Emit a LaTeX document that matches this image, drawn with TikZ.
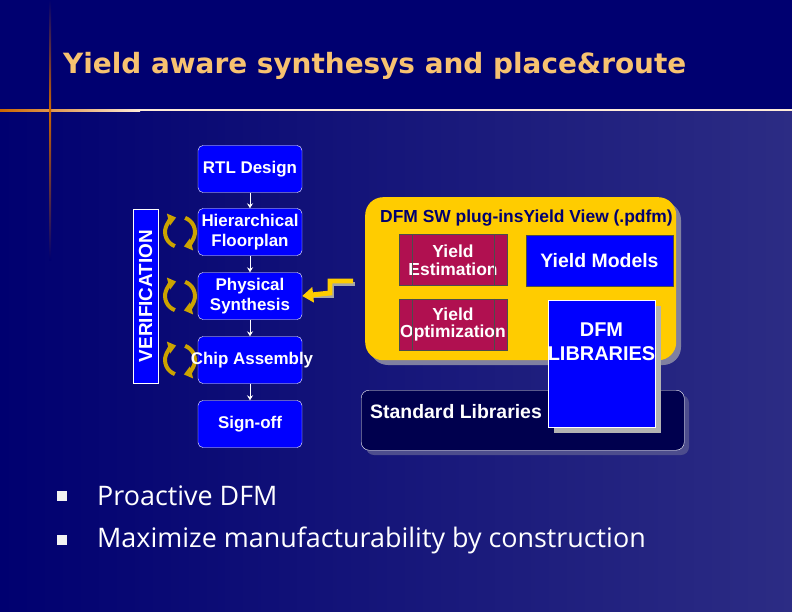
\documentclass[tikz,border=0pt]{standalone}
\usepackage{fontspec}
\setmainfont{Liberation Sans}
\newfontfamily\titlefont{DejaVu Sans}
\newfontfamily\bulletfont{Open Sans}
\usetikzlibrary{arrows.meta,shadows}
\definecolor{navy}{HTML}{000070}
\definecolor{bgbot}{HTML}{2C2C84}
\definecolor{titlec}{HTML}{F7C270}
\definecolor{boxblue}{HTML}{0000FF}
\definecolor{gold}{HTML}{FFCC00}
\definecolor{maroon}{HTML}{B01050}
\definecolor{darkbox}{HTML}{00004E}
\definecolor{shadowc}{HTML}{8080A0}
\tikzset{
 flow/.style={draw=white,fill=boxblue,rounded corners=5pt,minimum width=104bp,minimum height=47bp,text=white,font=\bfseries\fontsize{17}{20}\selectfont,align=center,inner sep=0pt},
 flowarr/.style={draw=white,line width=1pt,-{Stealth[length=5bp,width=6bp]}},
 yieldbox/.style={draw=black!70,fill=maroon,minimum width=108bp,minimum height=51bp,text=white,font=\bfseries\fontsize{17.5}{18}\selectfont,align=center,inner sep=0pt},
 loopa/.style={draw=gold!80!black,line width=4pt,-{Triangle[length=8bp,width=12bp]}},
}
\begin{document}
\begin{tikzpicture}[x=1bp,y=-1bp]
\useasboundingbox (0,0) rectangle (792,612);
\fill[navy] (0,0) rectangle (792,110);
\shade[left color=navy,right color=bgbot] (0,112) rectangle (792,612);
\shade[left color=orange!80!black,right color=white!85!orange] (0,109.5) rectangle (140,111.5);
\fill[white!85!orange] (140,109.5) rectangle (792,110.8);
\shade[top color=navy,bottom color=orange!80!black] (49,0) rectangle (51,110);
\shade[top color=orange!80!black,bottom color=navy] (49,110) rectangle (51,260);
\node[anchor=west,text=titlec,font=\titlefont\bfseries\fontsize{28}{32}\selectfont,inner sep=0pt] (title) at (63,66) {Yield aware synthesys and place\&route};
% flow
\node[flow] (rtl) at (250,169) {RTL Design};
\node[flow] (hf) at (250,232) {Hierarchical\\Floorplan};
\node[flow] (ps) at (250,296) {Physical\\Synthesis};
\node[flow] (ca) at (250,360) {};
\node[flow] (so) at (250,424) {Sign-off};
\draw[flowarr] (rtl) -- (hf);
\draw[flowarr] (hf) -- (ps);
\draw[flowarr] (ps) -- (ca);
\draw[flowarr] (ca) -- (so);
\node[draw=white,fill=boxblue,minimum width=25bp,minimum height=174bp,inner sep=0pt] (ver) at (145.5,296) {};
\node[rotate=90,text=white,font=\bfseries\fontsize{19}{20}\selectfont] (vertxt) at (ver.center) {VERIFICATION};
% loops
\foreach \yy/\nm in {232/la,296/lb,360/lc}{
 \coordinate (\nm) at (180,\yy);
 \draw[loopa] ([shift={(-5.1,14.1)}]\nm) arc[start angle=250,end angle=105,radius=15bp];
 \draw[loopa] ([shift={(5.1,-14.1)}]\nm) arc[start angle=70,end angle=-75,radius=15bp];
}
\node[text=white,font=\bfseries\fontsize{17}{20}\selectfont] (catxt) at (252,360) {Chip Assembly};
% lightning arrow
\coordinate (l1) at (353,281);
\coordinate (l2) at (330,281);
\coordinate (l3) at (330,293);
\draw[draw=gray!70,line width=5pt,line join=miter] ([shift={(2,3)}]l1) -- ([shift={(2,3)}]l2) -- ([shift={(2,3)}]l3) -- (312,296);
\draw[gold,line width=5pt,line join=miter,-{Triangle[length=11bp,width=15bp]}] (l1) -- (l2) -- (l3) -- (ps.east);
% yellow panel
\fill[shadowc,rounded corners=18pt] (370,202) rectangle (681,365);
\node[fill=gold,rounded corners=18pt,minimum width=311bp,minimum height=163bp,anchor=north west,inner sep=0pt] (panel) at (365,197) {};
\node[anchor=west,text=navy,font=\bfseries\fontsize{17.5}{20}\selectfont,inner sep=0pt] (ptitle) at (380,218) {DFM SW plug-insYield View (.pdfm)};
\node[yieldbox] (ye) at (453,260) {Yield\\Estimation};
\node[yieldbox] (yo) at (453,324.5) {Yield\\Optimization};
\foreach \b in {ye,yo}{\draw[black!70] ([xshift=13bp]\b.north west) -- ([xshift=13bp]\b.south west); \draw[black!70] ([xshift=-13bp]\b.north east) -- ([xshift=-13bp]\b.south east);}
\node[draw=black!70,fill=boxblue,minimum width=147bp,minimum height=51bp,text=white,font=\bfseries\fontsize{19.5}{22}\selectfont,inner sep=0pt] (ym) at (599.5,260.5) {Yield Models};
% standard libs
\fill[shadowc!60!navy,rounded corners=8pt] (366,395) rectangle (689,455);
\node[draw=white,fill=darkbox,rounded corners=8pt,minimum width=323bp,minimum height=60bp,anchor=north west,inner sep=0pt] (std) at (361,390) {};
\node[anchor=west,text=white,font=\bfseries\fontsize{19.5}{22}\selectfont,inner sep=0pt] (stdtxt) at (370,412) {Standard Libraries};
% DFM libraries
\fill[gray!60] (554,306) rectangle (661,433);
\node[draw=white,fill=boxblue,minimum width=107bp,minimum height=127bp,anchor=north west,inner sep=0pt] (dfm) at (548,300) {};
\node[text=white,font=\bfseries\fontsize{20}{24}\selectfont,align=center,inner sep=0pt] (dfmtxt) at (601.5,342) {DFM\\LIBRARIES};
% bullets
\fill[white!90!gray] (57,491) rectangle (67,501);
\fill[white!90!gray] (57,535) rectangle (67,545);
\node[anchor=west,text=white,font=\bulletfont\fontsize{27}{30}\selectfont,inner sep=0pt] (b1) at (97,496) {Proactive DFM};
\node[anchor=west,text=white,font=\bulletfont\fontsize{27}{30}\selectfont,inner sep=0pt] (b2) at (97,540) {Maximize manufacturability by construction};
\end{tikzpicture}
\end{document}
